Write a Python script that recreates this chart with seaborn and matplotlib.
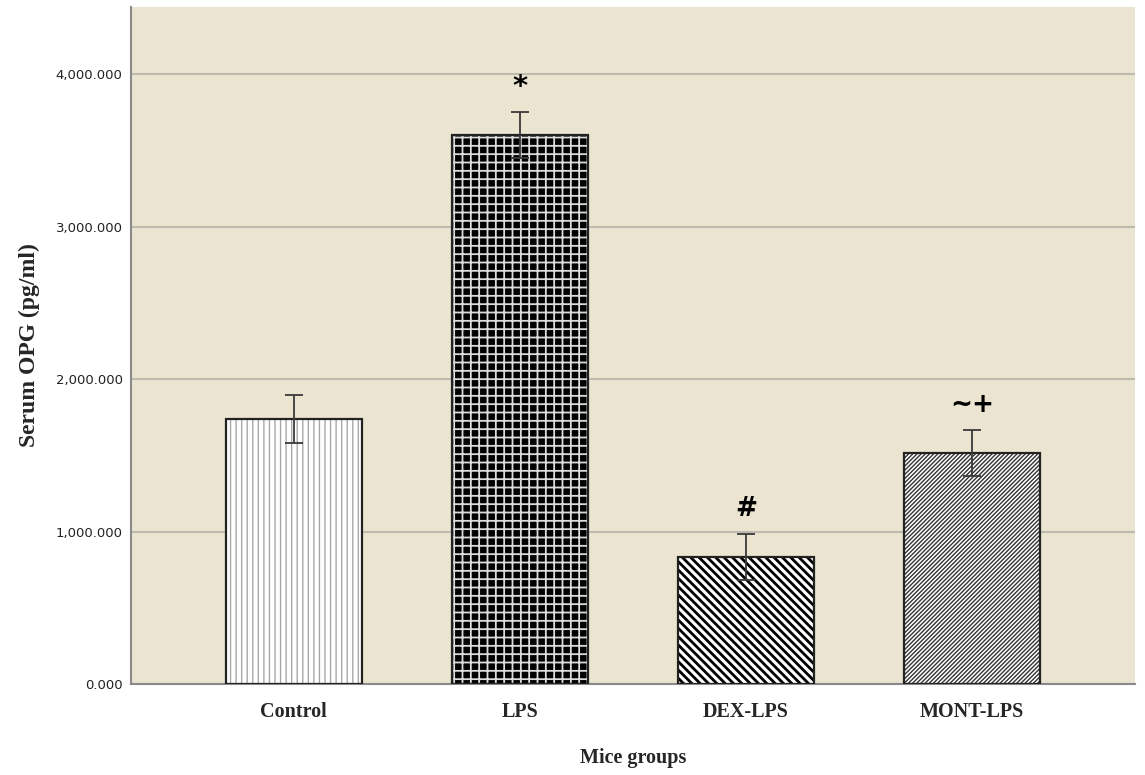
import matplotlib
matplotlib.use("Agg")
import matplotlib.pyplot as plt
import seaborn as sns
import numpy as np
import pandas as pd
from matplotlib.ticker import FuncFormatter

groups = ["Control", "LPS", "DEX-LPS", "MONT-LPS"]
means = [1738, 3600, 833, 1515]
sems = [155, 152, 152, 151]
marks = ["", "*", "#", "~+"]

face_colors = ["white", "black", "white", "white"]
hatch_colors = ["#a8a8a8", "#dcdcdc", "black", "#333333"]
hatches = ["|||", "++", "\\" * 4, "/" * 8]
hatch_lws = [1.0, 1.3, 2.0, 1.0]

df = pd.DataFrame({"group": groups, "mean": means, "sem": sems})

sns.set_style("white")
fig = plt.figure(figsize=(11.45, 7.75), dpi=100)
ax = fig.add_axes([131 / 1145, 91 / 775, 1004 / 1145, 677 / 775])
ax.set_facecolor("#EAE4D0")

# hatched fills (hatch colour = edge colour)
for i in range(len(groups)):
    with plt.rc_context({"hatch.linewidth": hatch_lws[i]}):
        sns.barplot(data=df, x="group", y=np.where(df.index == i, df["mean"], 0),
                    order=groups, errorbar=None, width=0.6, ax=ax,
                    color=face_colors[i], edgecolor=hatch_colors[i],
                    linewidth=0, hatch=hatches[i], zorder=2)

# remove zero-height bars
for p in list(ax.patches):
    if p.get_height() == 0:
        p.remove()

# outlines
sns.barplot(data=df, x="group", y="mean", order=groups, errorbar=None, width=0.6,
            ax=ax, fill=False, edgecolor="#222222", linewidth=1.6, zorder=3)

ax.errorbar(x=np.arange(len(groups)), y=df["mean"], yerr=df["sem"], fmt="none",
            ecolor="#3a3a3a", elinewidth=1.3, capsize=6.5, capthick=1.3, zorder=4)

for i, m in enumerate(marks):
    if m:
        ax.text(i, means[i] + sems[i] + 165, m, ha="center", va="center",
                fontsize=21 if m == "*" else 19, fontweight="bold",
                family="DejaVu Sans", color="black")

ax.set_ylim(0, 4440)
ax.set_xlim(-0.72, 3.72)
ax.set_yticks([0, 1000, 2000, 3000, 4000])
ax.yaxis.set_major_formatter(FuncFormatter(lambda v, p: f"{v:,.3f}"))
ax.grid(axis="y", color="#bdbab0", linewidth=1.5, zorder=0)
ax.set_axisbelow(True)
ax.tick_params(axis="both", length=0)
ax.tick_params(axis="y", labelsize=9.5, pad=6, labelcolor="#222222")
ax.tick_params(axis="x", pad=13)
for lab in ax.get_xticklabels():
    lab.set_fontfamily("Liberation Serif")
    lab.set_fontweight("bold")
    lab.set_fontsize(14.5)
for lab in ax.get_yticklabels():
    lab.set_fontfamily("DejaVu Sans")

for s in ["top", "right"]:
    ax.spines[s].set_visible(False)
ax.spines["left"].set_color("#8a8a8a")
ax.spines["bottom"].set_color("#8a8a8a")
ax.spines["left"].set_linewidth(1.5)
ax.spines["bottom"].set_linewidth(1.5)

ax.set_xlabel("Mice groups", fontsize=14.5, fontweight="bold", family="Liberation Serif", labelpad=19)
ax.set_ylabel("Serum OPG (pg/ml)", fontsize=17, fontweight="bold", family="Liberation Serif", labelpad=11)

fig.savefig("out.png", dpi=100)
